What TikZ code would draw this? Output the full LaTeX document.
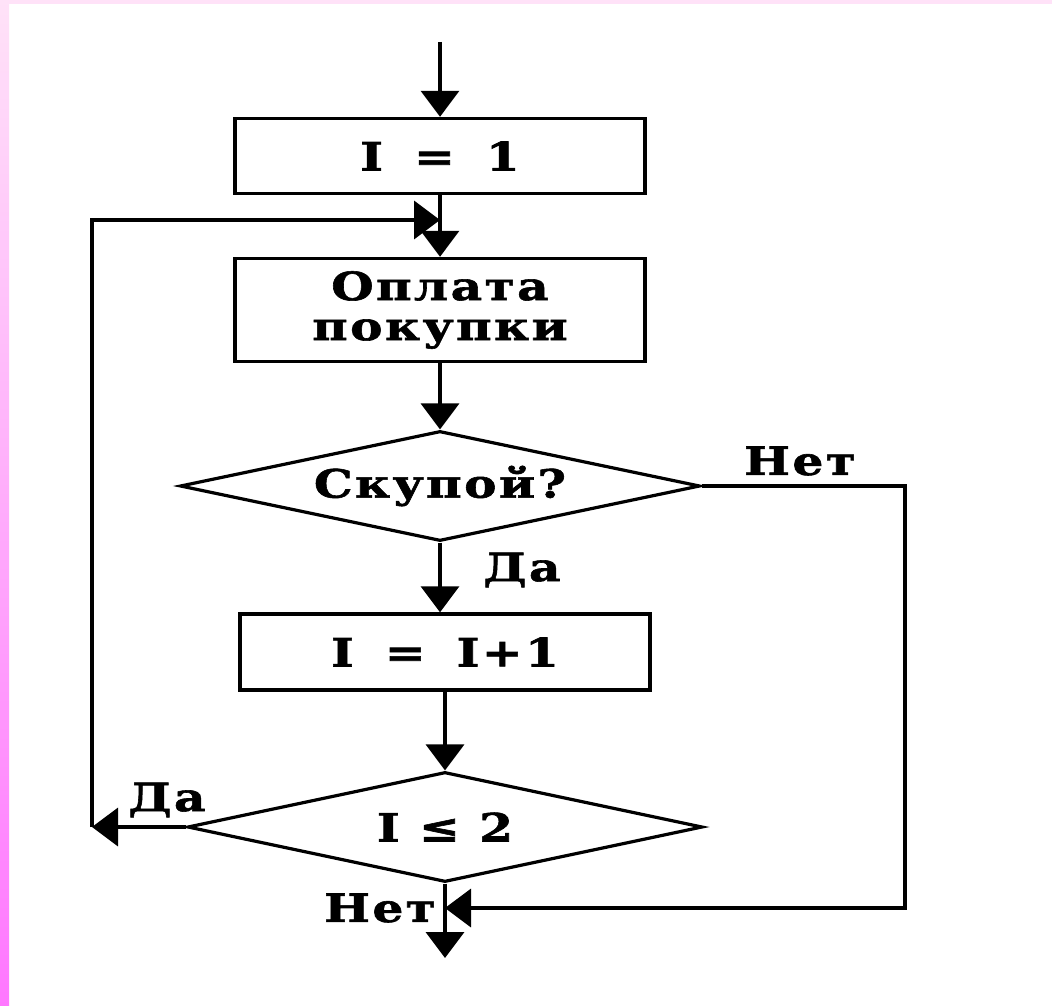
\documentclass[tikz,border=0pt]{standalone}
\usepackage{fontspec}
\setmainfont{DejaVu Serif}[FakeStretch=1.25, LetterSpace=6, BoldFeatures={FakeBold=1.5}]
\usetikzlibrary{shapes.geometric,arrows.meta}
\definecolor{pinktop}{HTML}{FFE2F8}
\definecolor{pinkbot}{HTML}{FF77FF}
\tikzset{
  box/.style={draw, line width=3.4pt, minimum width=410pt, inner sep=0pt, align=center, font=\fontsize{39}{46}\selectfont\bfseries},
  dec/.style={draw, diamond, line width=3.2pt, aspect=4.7, inner sep=0pt, font=\fontsize{39}{46}\selectfont\bfseries},
  lbl/.style={font=\fontsize{39}{46}\selectfont\bfseries, inner sep=0pt},
  arr/.style={line width=3.6pt, -{Triangle[length=26pt,width=38pt]}}
}
\newcommand{\wsp}{\hspace{0.3em}}
\begin{document}
\begin{tikzpicture}[x=1pt,y=-1pt]
\useasboundingbox (0,0) rectangle (1052,1006);
\fill[white] (0,0) rectangle (1052,1006);
\fill[pinktop] (0,0) rectangle (1052,4);
\shade[top color=pinktop, bottom color=pinkbot] (0,0) rectangle (9,1006);

\node[box, minimum height=75pt] (b1) at (440,156) {I\wsp{} =\wsp{} 1};
\node[box, minimum height=103pt] (b2) at (440,310) {Оплата\\[-6pt]покупки};
\node[dec, minimum width=520pt, minimum height=110pt] (d1) at (440,486) {Скупой?};
\node[box, minimum height=76pt] (b3) at (445,652) {I\wsp{} =\wsp{} I+1};
\node[dec, minimum width=515pt, minimum height=110pt] (d2) at (445,827) {I ≤ 2};

\coordinate (start) at (440,42);
\coordinate (j) at (440,220);
\coordinate (r1) at (905,486);
\coordinate (r2) at (905,908);
\coordinate (m) at (445,908);
\coordinate (l1) at (92,827);
\coordinate (l2) at (92,220);
\coordinate (end) at (445,958);

\draw[arr] (start) -- (b1.north);
\draw[arr] (b1.south) -- (b2.north);
\draw[arr] (b2.south) -- (d1.north);
\draw[arr] (d1.south) -- (d1.south |- b3.north);
\draw[arr] (b3.south) -- (d2.north);
\draw[arr] (d2.south) -- (end);
\draw[arr] (d1.east) -- (r1) -- (r2) -- (m);
\draw[arr] (d2.west) -- (l1);
\draw[arr] (l1) -- (l2) -- (j);

\node[lbl] (t1) at (800,461) {Нет};
\node[lbl] (t2) at (522,570) {Да};
\node[lbl] (t3) at (167,800) {Да};
\node[lbl] (t4) at (380,908) {Нет};
\end{tikzpicture}
\end{document}
